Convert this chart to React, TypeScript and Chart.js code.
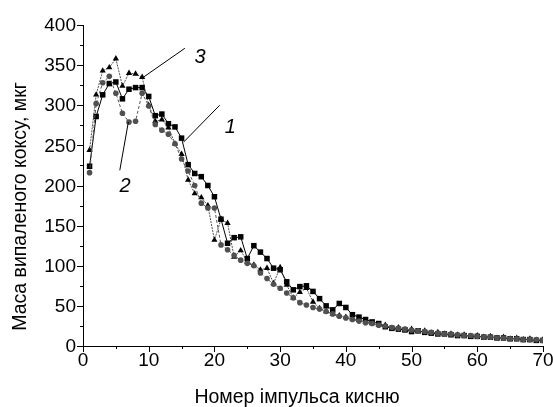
import React, { useEffect, useRef } from "react";
import { Chart, registerables } from "chart.js";

Chart.register(...registerables);

const pulses: number[] = [
  1, 2, 3, 4, 5, 6, 7, 8, 9, 10, 11, 12, 13, 14, 15, 16, 17, 18, 19, 20,
  21, 22, 23, 24, 25, 26, 27, 28, 29, 30, 31, 32, 33, 34, 35, 36, 37, 38, 39, 40,
  41, 42, 43, 44, 45, 46, 47, 48, 49, 50, 51, 52, 53, 54, 55, 56, 57, 58, 59, 60,
  61, 62, 63, 64, 65, 66, 67, 68, 69, 70,
];

const series1: number[] = [
  224, 286, 313, 327, 329, 308, 320, 322, 322, 311, 287, 289, 277, 273, 259, 226, 215, 211, 200, 186,
  158, 128, 135, 136, 109, 125, 117, 109, 97, 95, 80, 70, 74, 75, 68, 59, 50, 45, 53, 48,
  39, 36, 33, 30, 28, 24, 22, 21, 20, 18, 19, 17, 16, 15, 15, 14, 13, 13, 12, 12,
  11, 11, 10, 10, 9, 9, 8, 8, 7, 7,
];

const series2: number[] = [
  216, 302, 328, 336, 315, 290, 279, 280, 315, 299, 276, 269, 264, 252, 233, 218, 200, 178, 172, 172,
  126, 120, 113, 107, 103, 100, 91, 84, 77, 72, 66, 60, 54, 51, 48, 46, 43, 40, 37, 35,
  33, 31, 29, 28, 26, 25, 23, 22, 21, 20, 19, 18, 17, 16, 15, 15, 14, 13, 13, 12,
  11, 11, 10, 10, 9, 9, 8, 8, 8, 7,
];

const series3: number[] = [
  244, 313, 343, 347, 358, 324, 340, 339, 335, 300, 280, 282, 272, 252, 239, 207, 190, 185, 175, 132,
  158, 153, 111, 119, 105, 101, 95, 97, 78, 98, 76, 60, 67, 72, 55, 47, 43, 40, 38, 36,
  34, 32, 30, 28, 26, 26, 22, 23, 20, 21, 18, 19, 16, 17, 15, 15, 14, 14, 12, 13,
  11, 12, 10, 11, 9, 10, 8, 9, 7, 8,
];

const xTicks: number[] = [0, 10, 20, 30, 40, 50, 60, 70];
const yTicks: number[] = [0, 50, 100, 150, 200, 250, 300, 350, 400];

const xTitle = "Номер імпульса кисню";
const yTitle = "Маса випаленого коксу, мкг";

// annotation labels and their leader lines, in data units
const annLabels: string[] = ["1", "2", "3"];
const annLabelX: number[] = [22.4, 6.4, 17.8];
const annLabelY: number[] = [272, 199, 359];
const annFromX: number[] = [20.8, 5.6, 15.5];
const annFromY: number[] = [300, 219, 371];
const annToX: number[] = [15.3, 6.9, 9.2];
const annToY: number[] = [254, 279, 335];

const FONT = "'Liberation Sans', Arial, sans-serif";

const decorPlugin = {
  id: "decor",
  afterDraw(chart: any) {
    const { ctx, chartArea } = chart;
    const { left, right, top, bottom } = chartArea;
    const x = chart.scales.x;
    const y = chart.scales.y;
    ctx.save();
    ctx.strokeStyle = "#000";
    ctx.lineWidth = 1;
    ctx.beginPath();
    ctx.moveTo(left + 0.5, top);
    ctx.lineTo(left + 0.5, bottom + 0.5);
    ctx.lineTo(right, bottom + 0.5);
    ctx.stroke();
    ctx.beginPath();
    for (let v = 0; v <= 70; v += 5) {
      const px = Math.round(x.getPixelForValue(v)) + 0.5;
      const len = v % 10 === 0 ? 6 : 3;
      ctx.moveTo(px, bottom);
      ctx.lineTo(px, bottom + len);
    }
    for (let v = 0; v <= 400; v += 25) {
      const py = Math.round(y.getPixelForValue(v)) + 0.5;
      const len = v % 50 === 0 ? 6 : 3;
      ctx.moveTo(left, py);
      ctx.lineTo(left - len, py);
    }
    ctx.stroke();
    ctx.fillStyle = "#000";
    ctx.font = `19px ${FONT}`;
    ctx.textAlign = "center";
    ctx.textBaseline = "top";
    xTicks.forEach((v) => {
      ctx.fillText(String(v), x.getPixelForValue(v), bottom + 5);
    });
    ctx.textAlign = "right";
    ctx.textBaseline = "middle";
    yTicks.forEach((v) => {
      ctx.fillText(String(v), left - 7, y.getPixelForValue(v) + 1);
    });
    ctx.font = `19.5px ${FONT}`;
    ctx.textAlign = "center";
    ctx.textBaseline = "middle";
    ctx.fillText(xTitle, (left + right) / 2 - 16, bottom + 52);
    ctx.save();
    ctx.translate(21, (top + bottom) / 2 + 21);
    ctx.rotate(-Math.PI / 2);
    ctx.fillText(yTitle, 0, 0);
    ctx.restore();
    ctx.lineWidth = 1;
    ctx.beginPath();
    for (let i = 0; i < annLabels.length; i++) {
      ctx.moveTo(x.getPixelForValue(annFromX[i]), y.getPixelForValue(annFromY[i]));
      ctx.lineTo(x.getPixelForValue(annToX[i]), y.getPixelForValue(annToY[i]));
    }
    ctx.stroke();
    ctx.font = `italic 20px ${FONT}`;
    for (let i = 0; i < annLabels.length; i++) {
      ctx.fillText(annLabels[i], x.getPixelForValue(annLabelX[i]), y.getPixelForValue(annLabelY[i]));
    }
    ctx.restore();
  },
};

export default function App() {
  const ref = useRef<HTMLCanvasElement | null>(null);
  useEffect(() => {
    if (!ref.current) return;
    const mk = (vals: number[]) => pulses.map((p, i) => ({ x: p, y: vals[i] }));
    const chart = new Chart(ref.current, {
      type: "line",
      data: {
        datasets: [
          {
            label: "2",
            data: mk(series2),
            borderColor: "#555",
            backgroundColor: "#505050",
            borderWidth: 1,
            borderDash: [3, 2],
            pointStyle: "circle",
            pointRadius: 2.8,
            pointBorderWidth: 0,
          },
          {
            label: "3",
            data: mk(series3),
            borderColor: "#222",
            backgroundColor: "#000",
            borderWidth: 0.8,
            borderDash: [2, 1],
            pointStyle: "triangle",
            pointRadius: 3.6,
            pointBorderWidth: 0,
          },
          {
            label: "1",
            data: mk(series1),
            borderColor: "#000",
            backgroundColor: "#000",
            borderWidth: 1,
            pointStyle: "rect",
            pointRadius: 3.9,
            pointBorderWidth: 0,
          },
        ],
      },
      options: {
        responsive: false,
        animation: false,
        layout: { padding: { left: 83, top: 25, right: 10, bottom: 61 } },
        plugins: { legend: { display: false }, tooltip: { enabled: false } },
        elements: { line: { tension: 0 } },
        scales: {
          x: { type: "linear", min: 0, max: 70, display: false },
          y: { type: "linear", min: 0, max: 400, display: false },
        },
      },
      plugins: [decorPlugin],
    });
    return () => chart.destroy();
  }, []);
  return (
    <div style={{ position: "fixed", left: 0, top: 0, width: 553, height: 407, background: "#fff" }}>
      <canvas ref={ref} width={553} height={407} />
    </div>
  );
}
